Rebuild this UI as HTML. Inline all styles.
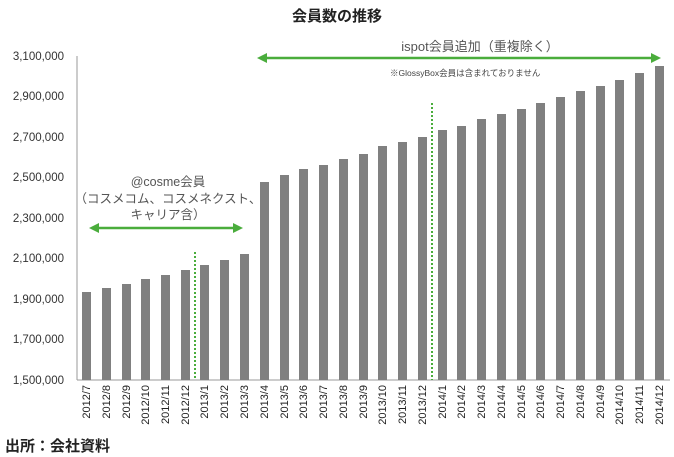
<!DOCTYPE html>
<html><head><meta charset="utf-8"><style>
body{margin:0;background:#fff;}
svg{display:block;font-family:"Liberation Sans","Noto Sans CJK JP",sans-serif;}
</style></head><body>
<svg width="674" height="457" viewBox="0 0 674 457">
<defs>
<marker id="ah" markerWidth="10" markerHeight="10" refX="7" refY="5" orient="auto-start-reverse" markerUnits="userSpaceOnUse"><path d="M0,0 L10,5 L0,10 z" fill="#4aad3c"/></marker>
</defs>
<text x="337" y="21" text-anchor="middle" font-size="15" font-weight="bold" fill="#222">会員数の推移</text>
<g font-size="11.5" fill="#333" text-anchor="end">
<text x="64" y="60">3,100,000</text>
<text x="64" y="100">2,900,000</text>
<text x="64" y="141">2,700,000</text>
<text x="64" y="181">2,500,000</text>
<text x="64" y="222">2,300,000</text>
<text x="64" y="262">2,100,000</text>
<text x="64" y="303">1,900,000</text>
<text x="64" y="343">1,700,000</text>
<text x="64" y="384">1,500,000</text>
</g>
<line x1="77" y1="56" x2="77" y2="380" stroke="#999" stroke-width="1"/>
<line x1="77" y1="380" x2="670" y2="380" stroke="#999" stroke-width="1"/>
<line x1="195" y1="252" x2="195" y2="380" stroke="#4aad3c" stroke-width="2" stroke-dasharray="2,2"/>
<line x1="432" y1="103" x2="432" y2="380" stroke="#4aad3c" stroke-width="2" stroke-dasharray="2,2"/>
<line x1="92" y1="228" x2="240" y2="228" stroke="#4aad3c" stroke-width="2.5" marker-start="url(#ah)" marker-end="url(#ah)"/>
<line x1="260" y1="58" x2="658" y2="58" stroke="#4aad3c" stroke-width="2.5" marker-start="url(#ah)" marker-end="url(#ah)"/>
<g font-size="12.5" fill="#555" text-anchor="middle">
<text x="168" y="186">@cosme会員</text>
<text x="168" y="203">（コスメコム、コスメネクスト、</text>
<text x="168" y="219">キャリア含）</text>
<text x="480" y="51" font-size="13">ispot会員追加（重複除く）</text>
</g>
<text x="390" y="76" font-size="8.5" fill="#444">※GlossyBox会員は含まれておりません</text>
<text x="5" y="451" font-size="15" font-weight="bold" fill="#222">出所：会社資料</text>
<g fill="#808080">
<rect x="82" y="292" width="9" height="88"/><rect x="102" y="288" width="9" height="92"/><rect x="122" y="284" width="9" height="96"/><rect x="141" y="279" width="9" height="101"/><rect x="161" y="275" width="9" height="105"/><rect x="181" y="270" width="9" height="110"/><rect x="200" y="265" width="9" height="115"/><rect x="220" y="260" width="9" height="120"/><rect x="240" y="254" width="9" height="126"/><rect x="260" y="182" width="9" height="198"/><rect x="280" y="175" width="9" height="205"/><rect x="299" y="169" width="9" height="211"/><rect x="319" y="165" width="9" height="215"/><rect x="339" y="159" width="9" height="221"/><rect x="359" y="154" width="9" height="226"/><rect x="378" y="146" width="9" height="234"/><rect x="398" y="142" width="9" height="238"/><rect x="418" y="137" width="9" height="243"/><rect x="438" y="130" width="9" height="250"/><rect x="457" y="126" width="9" height="254"/><rect x="477" y="119" width="9" height="261"/><rect x="497" y="114" width="9" height="266"/><rect x="517" y="109" width="9" height="271"/><rect x="536" y="103" width="9" height="277"/><rect x="556" y="97" width="9" height="283"/><rect x="576" y="91" width="9" height="289"/><rect x="596" y="86" width="9" height="294"/><rect x="615" y="80" width="9" height="300"/><rect x="635" y="73" width="9" height="307"/><rect x="655" y="66" width="9" height="314"/>
</g>
<g font-size="11" fill="#222" text-anchor="end">
<text transform="translate(90,385) rotate(-90)">2012/7</text>
<text transform="translate(110,385) rotate(-90)">2012/8</text>
<text transform="translate(130,385) rotate(-90)">2012/9</text>
<text transform="translate(149,385) rotate(-90)">2012/10</text>
<text transform="translate(169,385) rotate(-90)">2012/11</text>
<text transform="translate(189,385) rotate(-90)">2012/12</text>
<text transform="translate(208,385) rotate(-90)">2013/1</text>
<text transform="translate(228,385) rotate(-90)">2013/2</text>
<text transform="translate(248,385) rotate(-90)">2013/3</text>
<text transform="translate(268,385) rotate(-90)">2013/4</text>
<text transform="translate(288,385) rotate(-90)">2013/5</text>
<text transform="translate(307,385) rotate(-90)">2013/6</text>
<text transform="translate(327,385) rotate(-90)">2013/7</text>
<text transform="translate(347,385) rotate(-90)">2013/8</text>
<text transform="translate(367,385) rotate(-90)">2013/9</text>
<text transform="translate(386,385) rotate(-90)">2013/10</text>
<text transform="translate(406,385) rotate(-90)">2013/11</text>
<text transform="translate(426,385) rotate(-90)">2013/12</text>
<text transform="translate(446,385) rotate(-90)">2014/1</text>
<text transform="translate(465,385) rotate(-90)">2014/2</text>
<text transform="translate(485,385) rotate(-90)">2014/3</text>
<text transform="translate(505,385) rotate(-90)">2014/4</text>
<text transform="translate(525,385) rotate(-90)">2014/5</text>
<text transform="translate(544,385) rotate(-90)">2014/6</text>
<text transform="translate(564,385) rotate(-90)">2014/7</text>
<text transform="translate(584,385) rotate(-90)">2014/8</text>
<text transform="translate(604,385) rotate(-90)">2014/9</text>
<text transform="translate(623,385) rotate(-90)">2014/10</text>
<text transform="translate(643,385) rotate(-90)">2014/11</text>
<text transform="translate(663,385) rotate(-90)">2014/12</text>
</g>
</svg>
</body></html>
